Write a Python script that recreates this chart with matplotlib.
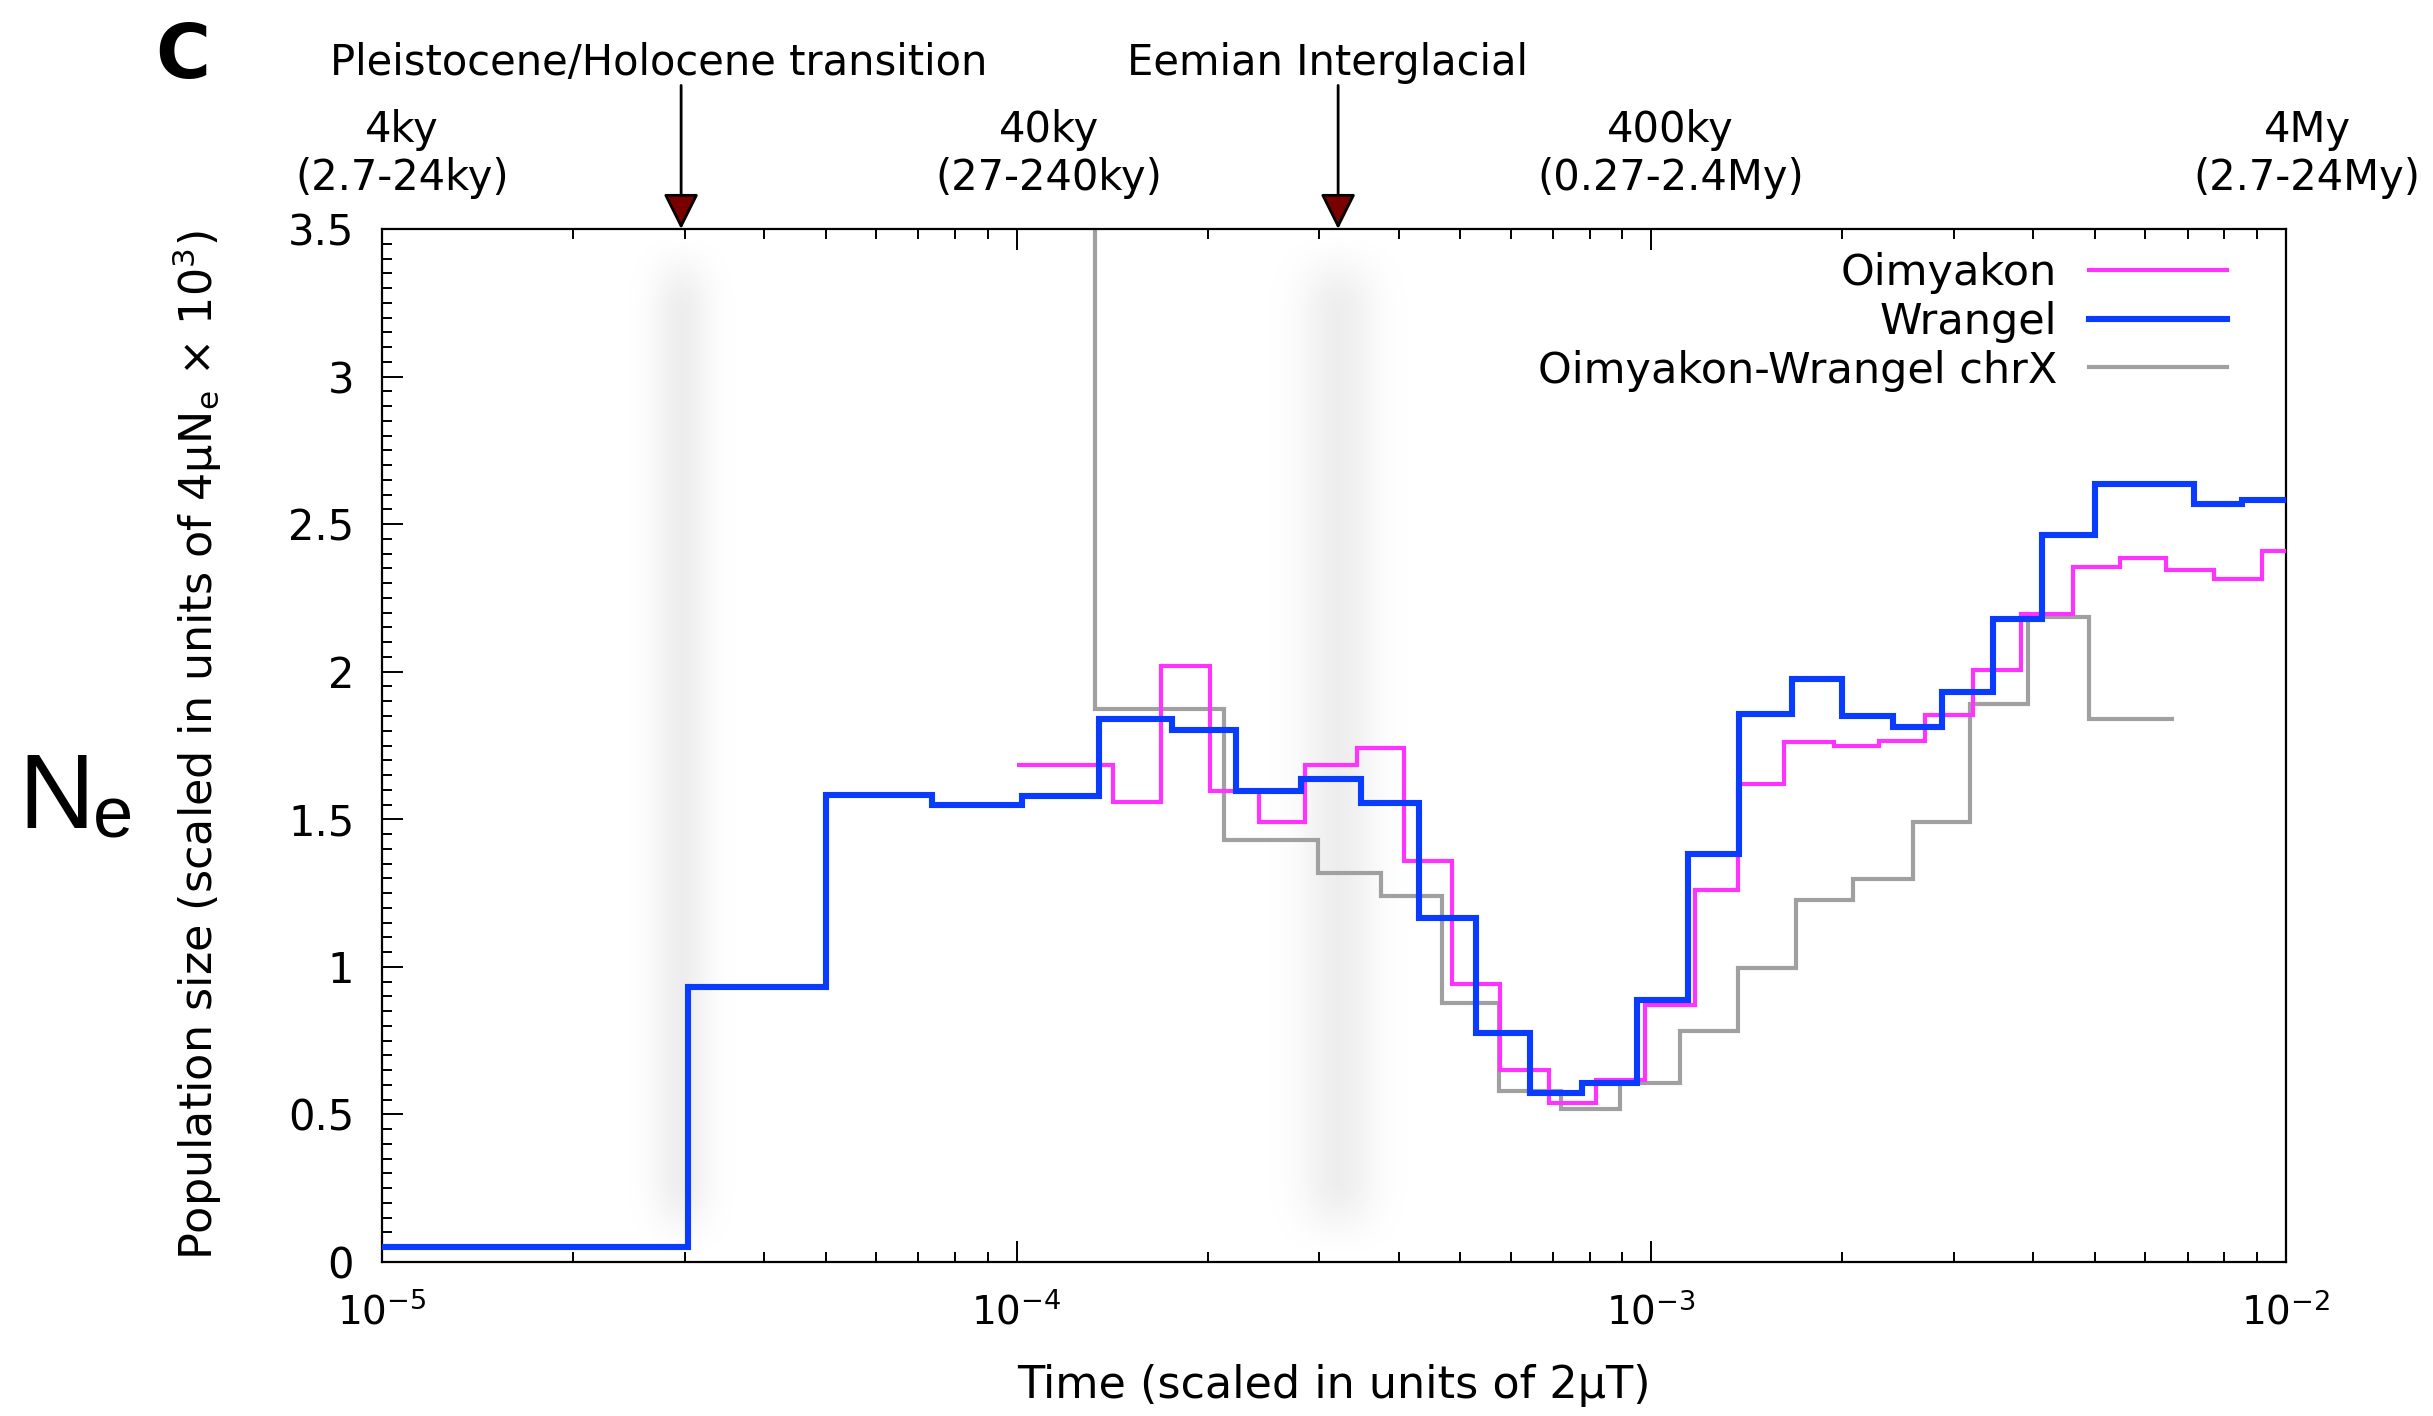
import numpy as np
import matplotlib
matplotlib.use("Agg")
import matplotlib.pyplot as plt
from matplotlib import transforms
from matplotlib.lines import Line2D
from matplotlib.ticker import LogLocator, MultipleLocator, NullFormatter

# ---------------- data ----------------
wrangel_edges = [1e-5, 3.03e-5, 5.0e-5, 7.35e-5, 1.02e-4, 1.35e-4, 1.76e-4, 2.22e-4,
                 2.81e-4, 3.49e-4, 4.30e-4, 5.29e-4, 6.45e-4, 7.77e-4, 9.48e-4,
                 1.144e-3, 1.374e-3, 1.667e-3, 2.0e-3, 2.40e-3, 2.87e-3, 3.45e-3,
                 4.12e-3, 5.0e-3, 7.15e-3, 8.53e-3, 1e-2]
wrangel_ne = [0.052, 0.932, 1.583, 1.55, 1.578, 1.84, 1.804, 1.597, 1.635, 1.554,
              1.165, 0.775, 0.573, 0.608, 0.889, 1.383, 1.856, 1.975, 1.849, 1.811,
              1.93, 2.18, 2.463, 2.636, 2.569, 2.581]

oimyakon_edges = [1e-4, 1.42e-4, 1.69e-4, 2.02e-4, 2.41e-4, 2.85e-4, 3.44e-4, 4.07e-4,
                  4.86e-4, 5.78e-4, 6.90e-4, 8.18e-4, 9.77e-4, 1.17e-3, 1.37e-3,
                  1.62e-3, 1.94e-3, 2.28e-3, 2.70e-3, 3.21e-3, 3.83e-3, 4.61e-3,
                  5.47e-3, 6.48e-3, 7.69e-3, 9.15e-3, 1e-2]
oimyakon_ne = [1.683, 1.559, 2.018, 1.595, 1.490, 1.685, 1.74, 1.357, 0.941, 0.651,
               0.539, 0.615, 0.870, 1.262, 1.619, 1.761, 1.749, 1.764, 1.852, 2.006,
               2.196, 2.355, 2.386, 2.344, 2.315, 2.41]

chrx_edges = [1.10e-4, 1.33e-4, 2.12e-4, 2.98e-4, 3.75e-4, 4.68e-4, 5.76e-4, 7.20e-4,
              8.93e-4, 1.11e-3, 1.37e-3, 1.69e-3, 2.08e-3, 2.58e-3, 3.18e-3, 3.92e-3,
              4.90e-3, 6.67e-3]
chrx_ne = [8.0, 1.873, 1.431, 1.317, 1.241, 0.877, 0.580, 0.520, 0.608, 0.782, 0.996,
           1.226, 1.298, 1.490, 1.892, 2.184, 1.84]

series_labels = ["Oimyakon", "Wrangel", "Oimyakon-Wrangel chrX"]
series_colors = ["#ff33ff", "#0a3cff", "#a0a0a0"]
series_widths = [3.0, 4.4, 3.0]

event_labels = ["Pleistocene/Holocene transition", "Eemian Interglacial"]
event_times = [2.96e-5, 3.21e-4]

age_main = ["4ky", "40ky", "400ky", "4My"]
age_range = ["(2.7-24ky)", "(27-240ky)", "(0.27-2.4My)", "(2.7-24My)"]
age_times = [1e-5, 1e-4, 1e-3, 1e-2]

y_ticks = [0, 0.5, 1, 1.5, 2, 2.5, 3, 3.5]
y_tick_labels = ["0", "0.5", "1", "1.5", "2", "2.5", "3", "3.5"]

# ---------------- figure ----------------
plt.rcParams['font.family'] = ['DejaVu Sans']
W, H = 2433, 1416
fig = plt.figure(figsize=(W / 100, H / 100), dpi=100)
pos = [382 / W, 1 - 1262 / H, 1904 / W, 1033 / H]

xmin, xmax = 1e-5, 1e-2
ymin, ymax = 0, 3.5

# background bands (glacial events)
bg = fig.add_axes(pos, zorder=0)
bg.set_axis_off()
nx, ny = 1600, 400
xs = np.linspace(0, 1, nx)
ys = np.linspace(0, 1, ny)
edge = np.clip(np.minimum(ys, 1 - ys) / 0.08, 0, 1)
vfade = edge * edge * (3 - 2 * edge)
band_sigma = [0.0105, 0.0135]
alpha = np.zeros((ny, nx))
for t, s in zip(event_times, band_sigma):
    c = (np.log10(t) - np.log10(xmin)) / (np.log10(xmax) - np.log10(xmin))
    alpha = np.maximum(alpha, np.exp(-0.5 * ((xs - c) / s) ** 2)[None, :] * vfade[:, None])
rgba = np.zeros((ny, nx, 4))
rgba[..., :3] = 0.55
rgba[..., 3] = alpha * 0.15
bg.imshow(rgba, extent=[0, 1, 0, 1], aspect='auto', origin='lower', interpolation='bilinear')
bg.set_xlim(0, 1)
bg.set_ylim(0, 1)

ax = fig.add_axes(pos, zorder=1)
ax.patch.set_visible(False)
ax.set_xscale('log')
ax.set_xlim(xmin, xmax)
ax.set_ylim(ymin, ymax)

ax.stairs(chrx_ne, chrx_edges, baseline=None, color=series_colors[2], lw=series_widths[2],
          label=series_labels[2], zorder=2)
ax.stairs(oimyakon_ne, oimyakon_edges, baseline=None, color=series_colors[0],
          lw=series_widths[0], label=series_labels[0], zorder=3)
ax.stairs(wrangel_ne, wrangel_edges, baseline=None, color=series_colors[1],
          lw=series_widths[1], label=series_labels[1], zorder=4)

# ticks
ax.xaxis.set_major_locator(LogLocator(base=10, numticks=10))
ax.xaxis.set_minor_locator(LogLocator(base=10, subs=np.arange(2, 10), numticks=20))
ax.xaxis.set_minor_formatter(NullFormatter())
ax.set_yticks(y_ticks)
ax.set_yticklabels(y_tick_labels)
ax.yaxis.set_minor_locator(MultipleLocator(0.05))
ax.tick_params(axis='x', which='both', direction='in', top=True, bottom=True)
ax.tick_params(axis='y', which='both', direction='in', left=True, right=False)
ax.tick_params(axis='x', which='major', length=15, width=1.4, labelsize=28, pad=22)
ax.tick_params(axis='x', which='minor', length=7.5, width=1.4)
ax.tick_params(axis='y', which='major', length=15, width=1.4, labelsize=30, pad=20)
ax.tick_params(axis='y', which='minor', length=7, width=1.4)
for sp in ax.spines.values():
    sp.set_linewidth(1.6)

ax.set_xlabel("Time (scaled in units of 2\u03bcT)", fontsize=32)
ax.xaxis.set_label_coords(0.5, -0.099)
ax.xaxis.label.set_va('top')
ax.set_ylabel("Population size (scaled in units of 4\u03bcN$_\\mathregular{e}$ \u00d7 10$^\\mathregular{3}$)",
              fontsize=32)
ax.yaxis.label.set(rotation_mode='default', va='center', ha='center')
ax.yaxis.set_label_coords(-0.097, 0.5)

# legend: text right-aligned, sample line on the right
handles = [Line2D([], [], color=c, lw=w) for c, w in zip(series_colors, series_widths)]
leg = ax.legend(handles, series_labels, loc='upper right', bbox_to_anchor=(0.969, 0.978),
                frameon=False, markerfirst=False, fontsize=31, handlelength=3.2,
                handletextpad=0.75, labelspacing=0.16, borderpad=0, borderaxespad=0)

# event arrows and labels
blend = transforms.blended_transform_factory(ax.transData, ax.transAxes)
text_dx = [-22, -11]
for t, lab, dx in zip(event_times, event_labels, text_dx):
    ax.annotate('', xy=(t, 1.0), xycoords=blend, xytext=(t, 1.139), textcoords=blend,
                arrowprops=dict(arrowstyle='-|>,head_length=1.1,head_width=0.55',
                                mutation_scale=20, lw=2.0, ec='black', fc='#7a0000',
                                shrinkA=0, shrinkB=0),
                annotation_clip=False, zorder=6)
    tr = transforms.offset_copy(blend, fig=fig, x=dx, y=0, units='dots')
    ax.text(t, 1.149, lab, transform=tr, ha='center', va='baseline', fontsize=30,
            clip_on=False)

# age labels above the axis
age_dx = [20, 32, 19, 21]
for t, a, r, dx in zip(age_times, age_main, age_range, age_dx):
    tr = transforms.offset_copy(blend, fig=fig, x=dx, y=0, units='dots')
    ax.text(t, 1.0842, a, transform=tr, ha='center', va='baseline', fontsize=30, clip_on=False)
    ax.text(t, 1.0378, r, transform=tr, ha='center', va='baseline', fontsize=30, clip_on=False)

# panel letter and Ne
fig.text(155 / W, 1 - 78 / H, "C", fontsize=54, fontweight='bold', ha='left', va='baseline')
fig.text(18 / W, 1 - 828 / H, "N", fontsize=76, family=['Liberation Sans', 'DejaVu Sans'],
         ha='left', va='baseline')
fig.text(93 / W, 1 - 837 / H, "e", fontsize=52, family=['Liberation Sans', 'DejaVu Sans'],
         ha='left', va='baseline')

fig.savefig("out.png", dpi=100)
